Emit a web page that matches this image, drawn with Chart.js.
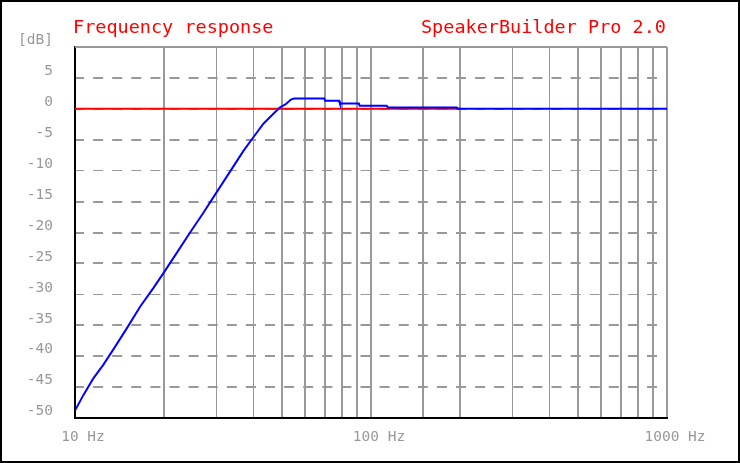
<!DOCTYPE html>
<html>
<head>
<meta charset="utf-8">
<script src="https://cdn.jsdelivr.net/npm/chart.js@4.4.1/dist/chart.umd.min.js"></script>
<style>
  html, body { margin: 0; padding: 0; background: #fff; }
  #chart { display: block; }
</style>
</head>
<body>
<canvas id="chart" width="740" height="463"></canvas>
<script>
// frequency response (Hz, dB)
const freqHz = [10, 10.67, 11.53, 12.46, 13.48, 14.96, 16.59, 18.39, 20.0, 22.07, 24.48, 27.15, 29.81,
  34.29, 37.07, 39.76, 43.3, 46.8, 49.3, 51.4, 53.6, 55, 69.5, 70, 78, 78.5, 91, 91.5, 113, 114, 195, 197, 1000];
const responseDb = [-48.8, -46.3, -43.6, -41.4, -38.9, -35.5, -32.0, -29.0, -26.4, -23.3, -20.0, -16.8, -13.8,
  -9.3, -6.8, -4.8, -2.4, -0.8, 0.26, 0.7, 1.5, 1.67, 1.67, 1.29, 1.29, 0.86, 0.86, 0.49, 0.49, 0.2, 0.2, 0, 0];

// red 0 dB reference line
const refFreqHz = [10, 200];
const refDb = [0, 0];

const xLabelFreqs = [10, 100, 1000];
const thinFreqDigits = [3, 4];
const thinDbLines = [-10, -30];

const gray = '#999999';
const mono = '"DejaVu Sans Mono", "Liberation Mono", monospace';

const framePlugin = {
  id: 'frame',
  beforeDraw(chart) {
    const ctx = chart.ctx;
    ctx.save();
    ctx.fillStyle = '#fff';
    ctx.fillRect(0, 0, chart.width, chart.height);
    ctx.strokeStyle = '#000';
    ctx.lineWidth = 2;
    ctx.strokeRect(1, 1, chart.width - 2, chart.height - 2);
    ctx.restore();
  },
  beforeDatasetsDraw(chart) {
    const { ctx, chartArea: a } = chart;
    ctx.save();
    ctx.strokeStyle = gray;
    ctx.lineWidth = 2;
    ctx.beginPath();
    ctx.moveTo(a.left, a.top);
    ctx.lineTo(a.right, a.top);
    ctx.stroke();
    ctx.restore();
  },
  afterDraw(chart) {
    const { ctx, chartArea: a } = chart;
    ctx.save();
    ctx.fillStyle = '#ff0000';
    ctx.font = '18.5px ' + mono;
    ctx.textBaseline = 'alphabetic';
    ctx.textAlign = 'left';
    ctx.fillText('Frequency response', a.left - 2, 33);
    ctx.textAlign = 'right';
    ctx.fillText('SpeakerBuilder Pro 2.0', a.right - 1, 33);
    ctx.restore();
  }
};

new Chart(document.getElementById('chart'), {
  type: 'line',
  data: {
    datasets: [
      {
        data: freqHz.map((f, i) => ({ x: f, y: responseDb[i] })),
        borderColor: '#0000ff',
        borderWidth: 2,
        pointRadius: 0,
        tension: 0
      },
      {
        data: refFreqHz.map((f, i) => ({ x: f, y: refDb[i] })),
        borderColor: '#ff0000',
        borderWidth: 2,
        pointRadius: 0,
        tension: 0
      }
    ]
  },
  options: {
    responsive: false,
    animation: false,
    layout: { padding: { top: 47, right: 73, left: 0, bottom: 0 } },
    plugins: { legend: { display: false }, tooltip: { enabled: false } },
    scales: {
      x: {
        type: 'logarithmic',
        min: 10,
        max: 1000,
        afterFit: s => { s.height = 45; },
        border: { color: '#000', width: 2 },
        grid: {
          color: gray,
          drawTicks: false,
          lineWidth: c => {
            const v = c.tick ? c.tick.value : 10;
            const m = Math.round(v / Math.pow(10, Math.floor(Math.log10(v) + 1e-9)));
            return thinFreqDigits.includes(m) ? 1 : 2;
          }
        },
        ticks: {
          autoSkip: false,
          maxRotation: 0,
          minRotation: 0,
          padding: 11,
          labelOffset: 8,
          color: gray,
          font: { family: mono, size: 14.5 },
          callback: v => xLabelFreqs.includes(v) ? v + ' Hz' : ''
        }
      },
      y: {
        min: -50,
        max: 10,
        afterFit: s => { s.width = 75; },
        border: { color: '#000', width: 2, dash: [10, 9.1], dashOffset: 2 },
        grid: {
          color: gray,
          drawTicks: false,
          lineWidth: c => (c.tick && thinDbLines.includes(c.tick.value)) ? 1 : 2
        },
        ticks: {
          stepSize: 5,
          autoSkip: false,
          padding: 22,
          labelOffset: -6.5,
          color: gray,
          font: { family: mono, size: 14.5 },
          callback: v => v === 10 ? '[dB]' : String(v)
        }
      }
    }
  },
  plugins: [framePlugin]
});
</script>
</body>
</html>
